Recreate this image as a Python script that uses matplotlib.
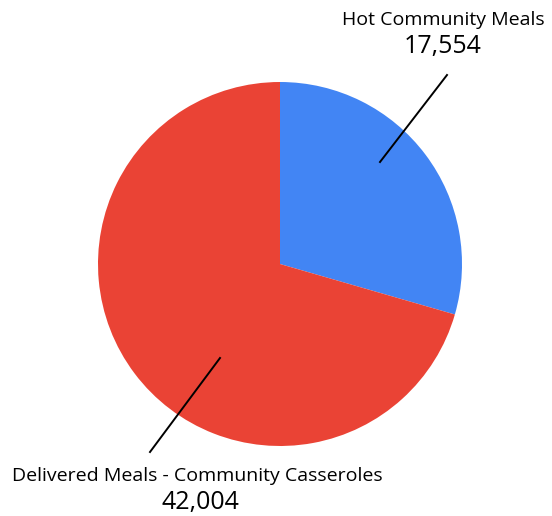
import matplotlib.pyplot as plt

labels = ['Hot Community Meals', 'Delivered Meals - Community Casseroles']
values = [17554, 42004]
colors = ['#4285F4', '#EA4335']

plt.rcParams['font.family'] = ['Open Sans', 'DejaVu Sans']

fig = plt.figure(figsize=(5.52, 5.16), dpi=100)
ax = fig.add_axes([0, 0, 1, 1])

# pie in pixel coordinates (y measured from bottom)
ax.pie(values, colors=colors, startangle=90, counterclock=False,
       center=(280, 516 - 264), radius=182, frame=True,
       wedgeprops=dict(linewidth=0))
ax.set_xlim(0, 552)
ax.set_ylim(0, 516)
ax.set_aspect('equal')
ax.axis('off')

# leader lines and labels
ax.plot([380, 447], [516 - 162, 516 - 75], color='black', lw=1.4)
ax.plot([220, 150], [516 - 358, 516 - 452], color='black', lw=1.4)

ax.text(443, 516 - 20, labels[0], ha='center', va='center', fontsize=14)
ax.text(443, 516 - 47, f'{values[0]:,}', ha='center', va='center', fontsize=18)
ax.text(197, 516 - 476, labels[1], ha='center', va='center', fontsize=14)
ax.text(200, 516 - 502, f'{values[1]:,}', ha='center', va='center', fontsize=18)

fig.savefig('out.png', dpi=100)
